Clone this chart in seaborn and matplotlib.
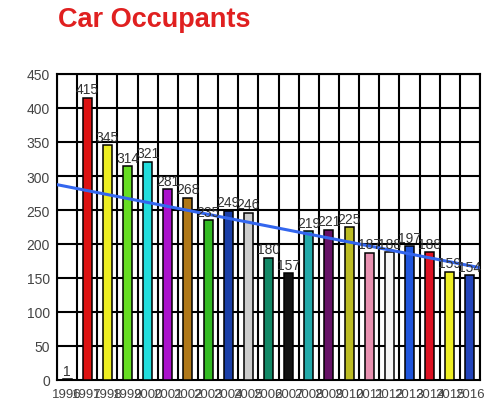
import numpy as np
import pandas as pd
import matplotlib
matplotlib.use("Agg")
import matplotlib.pyplot as plt
import seaborn as sns

years = [str(y) for y in range(1996, 2017)]
values = [1, 415, 345, 314, 321, 281, 268, 235, 249, 246, 180, 157,
          219, 221, 225, 187, 188, 197, 188, 159, 154]
bar_colors = ["#111111", "#dd1111", "#eeee22", "#66dd22", "#22dddd", "#aa11cc",
              "#b07818", "#33bb22", "#1a3fa8", "#cccccc", "#118866", "#111111",
              "#22aaaa", "#661166", "#bbbb22", "#e890b0", "#f6f6f6", "#1f55dd",
              "#dd1122", "#eeee22", "#2244bb"]
title = "Car Occupants"

sns.set_style("white")
plt.rcParams['font.family'] = ['Liberation Sans', 'DejaVu Sans']

df = pd.DataFrame({"year": years, "value": values})

fig = plt.figure(figsize=(5.02, 4.10), dpi=100)
ax = fig.add_axes([57/502, 1-381/410, (480-57)/502, (381-75)/410])

sns.barplot(data=df, x="year", y="value", hue="year", palette=bar_colors,
            legend=False, width=0.45, edgecolor="black", linewidth=1.1,
            saturation=1, ax=ax, zorder=3)

ax.set_xlim(-0.5, len(years) - 0.5)
ax.set_ylim(0, 450)

# trend line
sns.regplot(x=np.arange(len(values)), y=np.array(values, dtype=float),
            scatter=False, ci=None, truncate=False, ax=ax,
            line_kws=dict(color="#3366ee", lw=2.2, zorder=4))
ax.set_xlim(-0.5, len(years) - 0.5)

# grid
ax.set_yticks(np.arange(0, 451, 50))
for y in np.arange(50, 451, 50):
    ax.axhline(y, color="black", lw=1.5, zorder=1)
for x in np.arange(-0.5, len(years), 1.0):
    ax.axvline(x, color="black", lw=1.5, zorder=1)

for spine in ax.spines.values():
    spine.set_color("black")
    spine.set_linewidth(1.5)

for i, v in enumerate(values):
    ax.annotate(str(v), (i, v), xytext=(0, 1), textcoords="offset points",
                ha="center", va="bottom", fontsize=10, color="#333333", zorder=5)

ax.set_xlabel("")
ax.set_ylabel("")
ax.tick_params(axis="both", length=0, labelsize=10, labelcolor="#444444")
ax.tick_params(axis="x", pad=6, labelsize=9.5)
ax.tick_params(axis="y", pad=5)

fig.text(58/502, 1-20/410, title, color="#e02020", fontsize=19.5,
         fontweight="bold", ha="left", va="center")

fig.savefig("out.png", dpi=100)
